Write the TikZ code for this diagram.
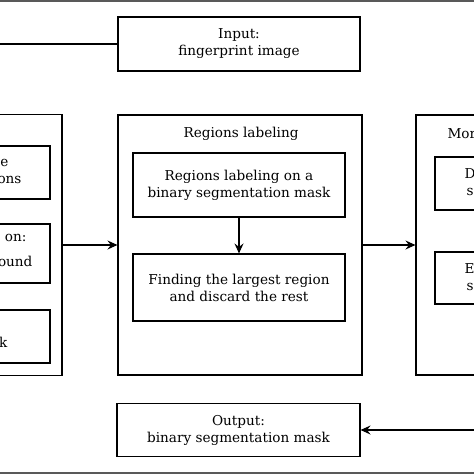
\documentclass[tikz,border=0pt]{standalone}
\usepackage{fontspec}
\setmainfont{DejaVu Serif}
\usetikzlibrary{arrows.meta,positioning}

\begin{document}
\begin{tikzpicture}[x=1pt, y=-1pt, line width=1.1pt,
      every node/.append style={font=\fontsize{13.6}{17}\selectfont}]
    \tikzstyle{stepbox} = [draw, rectangle, align=center, inner sep=0pt]
    \tikzstyle{group} = [draw, rectangle, inner sep=0pt]
    \tikzstyle{cut} = [inner sep=0pt]
    \tikzstyle{arr} = [-{Stealth[length=10pt,width=9pt,inset=3.5pt]}]
    \useasboundingbox (0,0) rectangle (474,474);
    \clip (0,0) rectangle (474,474);
    \fill[black!65] (0,0) rectangle (474,2);
    \fill[black!65] (0,472) rectangle (474,474);
    % input and output
    \node[stepbox, minimum width=242pt, minimum height=54pt] (input) at (239,44) {Input:\\fingerprint image};
    \node[stepbox, minimum width=243pt, minimum height=53pt] (output) at (238.5,430) {Output:\\binary segmentation mask};
    \coordinate (in_end) at (0,44);
    \coordinate (out_end) at (474,430);
    % left group (cut by the border)
    \node[group, minimum width=94pt, minimum height=261pt] (prep) at (15,245) {};
    \node[group, minimum width=92pt, minimum height=53pt] (prep_a) at (4,172.5) {};
    \node[group, minimum width=92pt, minimum height=59pt] (prep_b) at (4,253.5) {};
    \node[group, minimum width=92pt, minimum height=53pt] (prep_c) at (4,336.5) {};
    \node[cut, anchor=base east] (prep_a1) at (9,166) {e};
    \node[cut, anchor=base east] (prep_a2) at (22,183) {ons};
    \node[cut, anchor=base east] (prep_b1) at (27,241) {on:};
    \node[cut, anchor=base east] (prep_b2) at (33,266) {ound};
    \node[cut, anchor=base east] (prep_c1) at (8,347) {k};
    % regions labeling
    \node[group, minimum width=244pt, minimum height=260pt] (regions) at (240,245) {};
    \node[cut, anchor=base] (regions_title) at (241,137) {Regions labeling};
    \node[stepbox, minimum width=212pt, minimum height=64pt] (labeling) at (239,185) {Regions labeling on a\\binary segmentation mask};
    \node[stepbox, minimum width=212pt, minimum height=67pt] (largest) at (239,287.5) {Finding the largest region\\and discard the rest};
    % morphology group (cut by the border)
    \node[group, minimum width=100pt, minimum height=260pt] (morph) at (466,245) {};
    \node[cut, anchor=base west] (morph_title) at (447,138) {Mor};
    \node[group, minimum width=80pt, minimum height=53pt] (morph_a) at (475,183.5) {};
    \node[group, minimum width=80pt, minimum height=52pt] (morph_b) at (475,278) {};
    \node[cut, anchor=base west] (morph_a1) at (464,178) {D};
    \node[cut, anchor=base west] (morph_a2) at (466,195) {s};
    \node[cut, anchor=base west] (morph_b1) at (464,273) {E};
    \node[cut, anchor=base west] (morph_b2) at (466,290) {s};
    % connectors
    \draw (in_end) -- (input);
    \draw[arr] (prep) -- (regions);
    \draw[arr] (labeling) -- (largest);
    \draw[arr] (regions) -- (morph);
    \draw[arr] (out_end) -- (output);
\end{tikzpicture}
\end{document}
